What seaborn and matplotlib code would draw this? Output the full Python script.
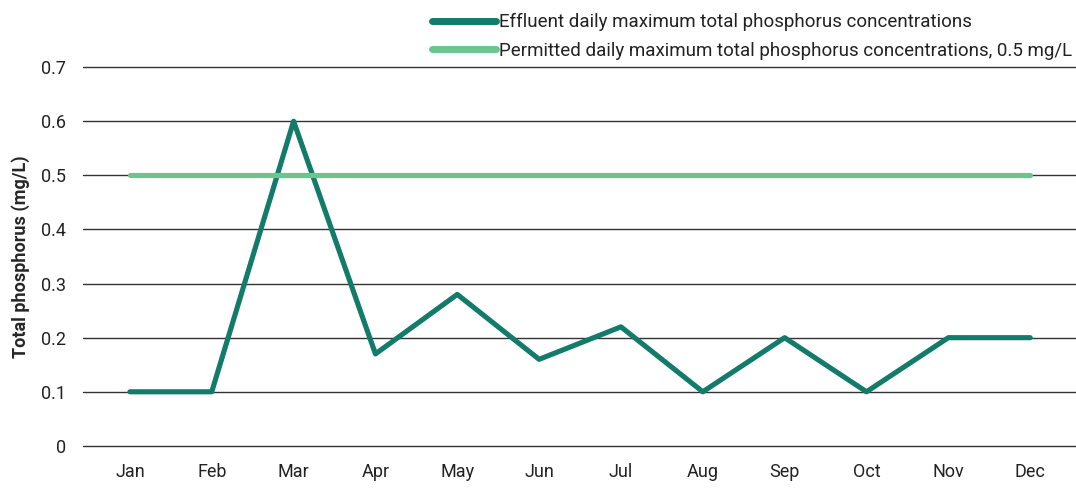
import pandas as pd
import matplotlib.pyplot as plt
import seaborn as sns

months = ['Jan', 'Feb', 'Mar', 'Apr', 'May', 'Jun', 'Jul', 'Aug', 'Sep', 'Oct', 'Nov', 'Dec']
effluent = [0.1, 0.1, 0.6, 0.17, 0.28, 0.16, 0.22, 0.1, 0.2, 0.1, 0.2, 0.2]
permitted = [0.5] * 12

lbl_eff = 'Effluent daily maximum total phosphorus concentrations'
lbl_perm = 'Permitted daily maximum total phosphorus concentrations, 0.5 mg/L'

df = pd.DataFrame({
    'month': months * 2,
    'value': effluent + permitted,
    'series': [lbl_eff] * 12 + [lbl_perm] * 12,
})

sns.set_style('white')
plt.rcParams['font.family'] = ['Roboto', 'DejaVu Sans']

fig = plt.figure(figsize=(10.76, 4.90), dpi=100)
ax = fig.add_axes([0.077, 0.09, 0.923, 0.773])

sns.lineplot(data=df, x='month', y='value', hue='series', sort=False,
             palette={lbl_eff: '#127b6a', lbl_perm: '#6cc48f'},
             linewidth=3.7, ax=ax)

ax.set_ylim(0, 0.7)
ax.set_yticks([0, 0.1, 0.2, 0.3, 0.4, 0.5, 0.6, 0.7])
ax.set_yticklabels(['0', '0.1', '0.2', '0.3', '0.4', '0.5', '0.6', '0.7'])
ax.set_xlim(-0.575, 11.56)
ax.grid(axis='y', color='#333333', linewidth=1)
for gl in ax.get_ygridlines():
    gl.set_clip_on(False)
ax.set_axisbelow(True)
for s in ax.spines.values():
    s.set_visible(False)
ax.tick_params(axis='both', labelsize=13, colors='#222222', length=0, pad=12)
ax.set_xlabel('')
ax.set_ylabel('Total phosphorus (mg/L)', fontsize=13, fontweight='bold', labelpad=8)

leg = ax.legend(loc='lower right', bbox_to_anchor=(1.004, 1.0), frameon=False,
                fontsize=13.5, handlelength=3.4, handletextpad=0.2, labelspacing=0.55,
                borderaxespad=0.2, borderpad=0.2)
for line in leg.get_lines():
    line.set_linewidth(5)
    line.set_solid_capstyle('round')
for text in leg.get_texts():
    text.set_color('#222222')

fig.savefig('out.png', dpi=100)
